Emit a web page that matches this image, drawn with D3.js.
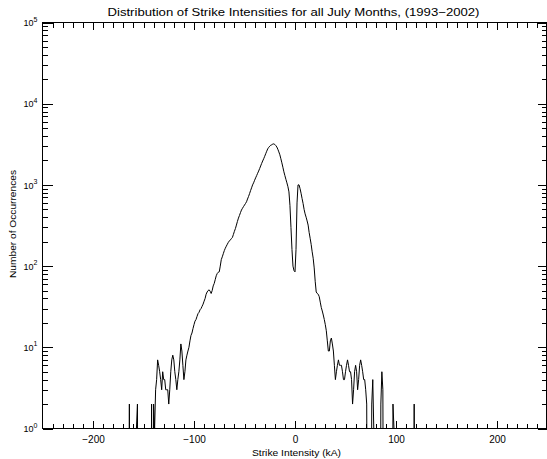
<!DOCTYPE html>
<html>
<head>
<meta charset="utf-8">
<script src="https://cdn.jsdelivr.net/npm/d3@7"></script>
<style>
  html, body { margin: 0; padding: 0; background: #fff; }
  svg { display: block; }
  text { font-family: "Liberation Sans", Arial, sans-serif; fill: #000; }
</style>
</head>
<body>
<svg id="chart" width="547" height="459"></svg>
<script>
// Histogram of strike intensities, 1 kA bins starting at binStart
const binStart = -165;
const binWidth = 1;
const counts = [
  0, 2, 0, 0, 0, 0, 0, 0, 1, 2,                        // -165 .. -156
  0, 0, 0, 0, 0, 0, 0, 0, 0, 0,                        // -155 .. -146
  0, 0, 0, 2, 0, 2, 1, 3, 4, 7,                        // -145 .. -136
  6, 5, 4, 3, 5, 4, 4, 3, 3, 3,                        // -135 .. -126
  2, 3, 5, 7, 8, 7, 5, 4, 3, 4,                        // -125 .. -116
  5, 7, 11, 9, 6, 4, 5, 7, 8, 9,                       // -115 .. -106
  10, 12, 14, 15, 17, 19, 21, 22, 24, 26,              // -105 .. -96
  27, 29, 30, 32, 34, 37, 40, 45, 48, 50,              // -95 .. -86
  51, 49, 46, 50, 57, 61, 68, 76, 81, 84,              // -85 .. -76
  85, 100, 120, 130, 142, 155, 166, 176, 186, 196,     // -75 .. -66
  204, 210, 218, 225, 245, 268, 290, 320, 355, 390,    // -65 .. -56
  420, 455, 490, 515, 540, 565, 590, 620, 670, 720,    // -55 .. -46
  780, 850, 920, 1000, 1060, 1140, 1220, 1300, 1390, 1480, // -45 .. -36
  1590, 1710, 1840, 1970, 2100, 2250, 2420, 2600, 2780, 2900, // -35 .. -26
  3000, 3080, 3120, 3180, 3200, 3150, 3050, 2930, 2750, 2550, // -25 .. -16
  2350, 2100, 1870, 1650, 1450, 1300, 1170, 1060, 950, 820,   // -15 .. -6
  560, 300, 160, 100, 88, 85, 160, 600, 1000, 1000,    // -5 .. 4
  900, 790, 680, 590, 500, 440, 400, 360, 320, 260,    // 5 .. 14
  220, 185, 150, 125, 95, 65, 48, 46, 45, 42,          // 15 .. 24
  36, 31, 28, 25, 22, 19, 16, 12, 9, 9,                // 25 .. 34
  12, 13, 11, 9, 6, 4, 5, 6, 7, 6,                     // 35 .. 44
  6, 6, 5, 4, 4, 5, 6, 7, 6, 5,                        // 45 .. 54
  5, 4, 2, 3, 5, 6, 5, 3, 4, 6,                        // 55 .. 64
  7, 6, 5, 4, 4, 3, 2, 0, 0, 0,                        // 65 .. 74
  0, 2, 4, 1, 0, 0, 0, 0, 0, 0,                        // 75 .. 84
  2, 5, 3, 0, 0, 0, 0, 0, 0, 0,                        // 85 .. 94
  0, 0, 2, 1, 0, 0, 0, 0, 0, 0,                        // 95 .. 104
  0, 0, 0, 0, 0, 0, 0, 0, 0, 0,                        // 105 .. 114
  0, 0, 0, 2, 0, 0                                     // 115 .. 120
];

const xMajorTicks = [-200, -100, 0, 100, 200];
const xTickLabels = ["\u2212200", "\u2212100", "0", "100", "200"];
const yDecades = [1, 10, 100, 1000, 10000, 100000];
const yExponents = ["0", "1", "2", "3", "4", "5"];

const titleText = "Distribution of Strike Intensities for all July Months, (1993\u22122002)";
const xTitle = "Strike Intensity (kA)";
const yTitle = "Number of Occurrences";

const W = 547, H = 459;
const svg = d3.select("#chart");

const x = d3.scaleLinear().domain([-250, 250]).range([42.5, 547.5]);
const y = d3.scaleLog().domain([1, 1e5]).range([428.5, 22.5]);

const plotLeft = x(-250), plotRight = Math.min(x(250), W - 0.5);
const plotTop = y(1e5), plotBottom = y(1);

// minor tick positions
const xMinor = d3.range(-240, 250, 10).filter(v => v % 100 !== 0);
const yMinor = [];
for (let d = 1; d < 1e5; d *= 10) for (let m = 2; m <= 9; m++) yMinor.push(d * m);

function strip(g) { g.select(".domain").remove(); return g; }

// bottom axis: major with labels, minor without
svg.append("g").attr("transform", `translate(0,${plotBottom})`)
  .call(d3.axisBottom(x).tickValues(xMajorTicks).tickSize(-8).tickPadding(7.5)
    .tickFormat((d, i) => xTickLabels[i]))
  .call(strip)
  .call(g => g.selectAll("text").attr("font-size", 10).attr("font-family", "Liberation Sans, Arial, sans-serif"));
svg.append("g").attr("transform", `translate(0,${plotBottom})`)
  .call(d3.axisBottom(x).tickValues(xMinor).tickSize(-5).tickFormat(""))
  .call(strip);

// top axis
svg.append("g").attr("transform", `translate(0,${plotTop})`)
  .call(d3.axisTop(x).tickValues(xMajorTicks).tickSize(-7).tickFormat(""))
  .call(strip);
svg.append("g").attr("transform", `translate(0,${plotTop})`)
  .call(d3.axisTop(x).tickValues(xMinor).tickSize(-5).tickFormat(""))
  .call(strip);

// left axis
svg.append("g").attr("transform", `translate(${plotLeft},0)`)
  .call(d3.axisLeft(y).tickValues(yDecades).tickSize(-10).tickFormat(""))
  .call(strip);
svg.append("g").attr("transform", `translate(${plotLeft},0)`)
  .call(d3.axisLeft(y).tickValues(yMinor).tickSize(-5.5).tickFormat(""))
  .call(strip);

// right axis
svg.append("g").attr("transform", `translate(${plotRight},0)`)
  .call(d3.axisRight(y).tickValues(yDecades).tickSize(-9).tickFormat(""))
  .call(strip);
svg.append("g").attr("transform", `translate(${plotRight},0)`)
  .call(d3.axisRight(y).tickValues(yMinor).tickSize(-5).tickFormat(""))
  .call(strip);

svg.selectAll(".tick line").attr("stroke", "#000").attr("shape-rendering", "crispEdges");

// y labels as powers of ten
const yl = svg.append("g");
yDecades.forEach((d, i) => {
  const t = yl.append("text")
    .attr("x", plotLeft - 5)
    .attr("y", y(d) + 3.6)
    .attr("text-anchor", "end")
    .attr("font-size", 9);
  t.append("tspan").text("10");
  t.append("tspan").attr("dy", -4.6).attr("font-size", 7).text(yExponents[i]);
});

// frame
svg.append("rect")
  .attr("x", plotLeft).attr("y", plotTop)
  .attr("width", plotRight - plotLeft).attr("height", plotBottom - plotTop)
  .attr("fill", "none").attr("stroke", "#000").attr("stroke-width", 1)
  .attr("shape-rendering", "crispEdges");

// histogram curve; empty bins fall below the frame and are clipped
svg.append("clipPath").attr("id", "plot-clip")
  .append("rect").attr("x", plotLeft).attr("y", plotTop)
  .attr("width", plotRight - plotLeft).attr("height", plotBottom - plotTop);

const series = counts.map((c, i) => ({ v: binStart + i * binWidth, c }));
const line = d3.line()
  .x(d => x(d.v))
  .y(d => y(Math.max(d.c, 1e-3)));

svg.append("path")
  .datum(series)
  .attr("clip-path", "url(#plot-clip)")
  .attr("fill", "none")
  .attr("stroke", "#000")
  .attr("stroke-width", 1)
  .attr("stroke-linejoin", "round")
  .attr("d", line);

// titles, stretched to the wide plotting font's run length
svg.append("text")
  .attr("x", 293.5).attr("y", 16)
  .attr("text-anchor", "middle")
  .attr("font-size", 11)
  .attr("textLength", 372)
  .attr("lengthAdjust", "spacingAndGlyphs")
  .text(titleText);

svg.append("text")
  .attr("x", 296.5).attr("y", 456)
  .attr("text-anchor", "middle")
  .attr("font-size", 9.5)
  .attr("textLength", 89)
  .attr("lengthAdjust", "spacingAndGlyphs")
  .text(xTitle);

svg.append("text")
  .attr("transform", `translate(16,224) rotate(-90)`)
  .attr("text-anchor", "middle")
  .attr("font-size", 9.5)
  .attr("textLength", 108)
  .attr("lengthAdjust", "spacingAndGlyphs")
  .text(yTitle);
</script>
</body>
</html>
